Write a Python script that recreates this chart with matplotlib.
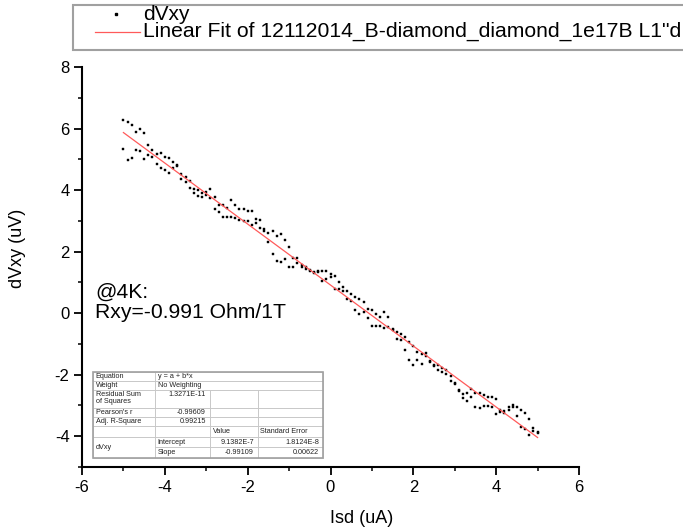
import matplotlib.pyplot as plt
from matplotlib.patches import Rectangle
from matplotlib.ticker import MultipleLocator

plt.rcParams['font.family'] = ['Liberation Sans', 'DejaVu Sans']
plt.rcParams['axes.unicode_minus'] = False

# sweep positions (uA) and the two measured branches (uV)
isd = [-5.0, -4.9, -4.8, -4.7, -4.6, -4.5, -4.4, -4.3, -4.2, -4.1,
       -4.0, -3.9, -3.8, -3.7, -3.6, -3.5, -3.4, -3.3, -3.2, -3.1,
       -3.0, -2.9, -2.8, -2.7, -2.6, -2.5, -2.4, -2.3, -2.2, -2.1,
       -2.0, -1.9, -1.8, -1.7, -1.6, -1.5, -1.4, -1.3, -1.2, -1.1,
       -1.0, -0.9, -0.8, -0.7, -0.6, -0.5, -0.4, -0.3, -0.2, -0.1,
       0.0, 0.1, 0.2, 0.3, 0.4, 0.5, 0.6, 0.7, 0.8, 0.9,
       1.0, 1.1, 1.2, 1.3, 1.4, 1.5, 1.6, 1.7, 1.8, 1.9,
       2.0, 2.1, 2.2, 2.3, 2.4, 2.5, 2.6, 2.7, 2.8, 2.9,
       3.0, 3.1, 3.2, 3.3, 3.4, 3.5, 3.6, 3.7, 3.8, 3.9,
       4.0, 4.1, 4.2, 4.3, 4.4, 4.5, 4.6, 4.7, 4.8, 4.9, 5.0]
dvxy_a = [6.27, 6.20, 6.13, 5.90, 5.97, 5.84, 5.47, 5.31, 5.16, 5.20,
          5.09, 5.05, 4.91, 4.83, 4.52, 4.41, 4.28, 4.05, 4.00, 3.89,
          3.95, 4.03, 3.77, 3.53, 3.50, 3.41, 3.69, 3.50, 3.37, 3.39,
          3.32, 3.31, 3.06, 3.02, 2.75, 2.62, 2.67, 2.52, 2.58, 2.37,
          2.14, 1.78, 1.78, 1.58, 1.44, 1.40, 1.33, 1.35, 1.37, 1.37,
          1.28, 1.20, 1.01, 0.86, 0.72, 0.61, 0.53, 0.46, 0.35, 0.13,
          0.10, -0.04, -0.12, 0.03, -0.12, -0.55, -0.62, -0.68, -0.77, -0.93,
          -1.08, -1.26, -1.34, -1.31, -1.55, -1.68, -1.70, -1.77, -1.85, -2.05,
          -2.26, -2.50, -2.63, -2.61, -2.45, -2.59, -2.61, -2.66, -2.71, -2.71,
          -2.79, -3.15, -3.19, -3.05, -3.00, -3.05, -3.15, -3.24, -3.43, -3.73, -3.87]
dvxy_b = [5.34, 4.97, 5.05, 5.31, 5.27, 5.00, 5.13, 5.08, 4.84, 4.73,
          4.65, 4.56, 4.73, 4.77, 4.35, 4.25, 4.07, 3.91, 3.82, 3.76,
          3.83, 3.73, 3.40, 3.29, 3.13, 3.13, 3.12, 3.08, 3.02, 3.01,
          3.01, 2.86, 2.93, 2.76, 2.68, 2.30, 1.93, 1.71, 1.65, 1.75,
          1.51, 1.51, 1.62, 1.51, 1.51, 1.37, 1.30, 1.38, 1.03, 1.10,
          1.18, 0.77, 0.79, 0.72, 0.45, 0.38, 0.10, -0.04, 0.03, -0.15,
          -0.42, -0.42, -0.42, -0.48, -0.45, -0.52, -0.85, -0.88, -1.20, -1.52,
          -1.67, -1.53, -1.65, -1.39, -1.60, -1.72, -1.85, -1.90, -1.98, -2.19,
          -2.30, -2.54, -2.75, -2.85, -2.73, -3.05, -3.08, -3.02, -3.02, -3.05,
          -3.28, -3.22, -3.25, -3.15, -3.05, -3.35, -3.69, -3.78, -3.97, -3.83, -3.90]

# linear fit result (y = a + b*x, in uV vs uA)
fit_a = 0.91382
fit_b = -0.99109
fit_range = [-5.0, 5.0]

# legend text as far as it is visible in the original
legend_labels = ['dVxy', 'Linear Fit of 12112014_B-diamond_diamond_1e17B L1"d']
note_lines = ['@4K:', 'Rxy=-0.991 Ohm/1T']

# fit report table: rows of (text, first col, last col, align)
table_rows = [
    [('Equation', 0, 0, 'left'), ('y = a + b*x', 1, 3, 'left')],
    [('Weight', 0, 0, 'left'), ('No Weighting', 1, 3, 'left')],
    [('Residual Sum\nof Squares', 0, 0, 'left'), ('1.3271E-11', 1, 1, 'right'),
     ('', 2, 2, 'left'), ('', 3, 3, 'left')],
    [("Pearson's r", 0, 0, 'left'), ('-0.99609', 1, 1, 'right'),
     ('', 2, 2, 'left'), ('', 3, 3, 'left')],
    [('Adj. R-Square', 0, 0, 'left'), ('0.99215', 1, 1, 'right'),
     ('', 2, 2, 'left'), ('', 3, 3, 'left')],
    [('', 0, 0, 'left'), ('', 1, 1, 'left'), ('Value', 2, 2, 'left'),
     ('Standard Error', 3, 3, 'left')],
    [('Intercept', 1, 1, 'left'), ('9.1382E-7', 2, 2, 'right'), ('1.8124E-8', 3, 3, 'right')],
    [('Slope', 1, 1, 'left'), ('-0.99109', 2, 2, 'right'), ('0.00622', 3, 3, 'right')],
]

W, H = 683, 531
fig = plt.figure(figsize=(W / 100, H / 100), dpi=100)
ax = fig.add_axes([82 / W, 1 - 467 / H, (579 - 82) / W, (467 - 67) / H])

ax.plot(isd + isd, dvxy_a + dvxy_b, ls='none', marker='s', ms=1.9,
        mfc='black', mec='black', mew=0.3)
fit_y = [fit_a + fit_b * x for x in fit_range]
ax.plot(fit_range, fit_y, color='#ff5a5a', lw=0.9)

ax.set_xlim(-6, 6)
ax.set_ylim(-5, 8)
ax.xaxis.set_major_locator(MultipleLocator(2))
ax.xaxis.set_minor_locator(MultipleLocator(1))
ax.yaxis.set_major_locator(MultipleLocator(2))
ax.yaxis.set_minor_locator(MultipleLocator(1))
for s in ['top', 'right']:
    ax.spines[s].set_visible(False)
for s in ['left', 'bottom']:
    ax.spines[s].set_linewidth(1.5)
ax.tick_params(which='major', direction='out', length=6, width=1.3, labelsize=12, pad=3)
ax.tick_params(which='minor', direction='out', length=3, width=1.1)
ax.set_xlabel('Isd (uA)', fontsize=13)
ax.set_ylabel('dVxy (uV)', fontsize=13)
ax.xaxis.set_label_coords(0.563, -0.108)
ax.yaxis.set_label_coords(-0.112, 0.547)

ax.text(0.026, 0.46, '\n'.join(note_lines), transform=ax.transAxes,
        fontsize=15.2, va='top', ha='left', linespacing=1.05)

# overlay in pixel units for the legend box and the fit report table
ov = fig.add_axes([0, 0, 1, 1], zorder=5)
ov.set_xlim(0, W)
ov.set_ylim(H, 0)
ov.axis('off')
ov.patch.set_alpha(0)

ov.add_patch(Rectangle((73, 5), 700, 45, fc='white', ec='#a0a0a0', lw=1.5, clip_on=False))
ov.plot([116], [14], ls='none', marker='s', ms=1.9, color='black')
ov.plot([95, 140], [31.5, 31.5], color='#ff5a5a', lw=0.9)
ov.text(143, 14, legend_labels[0], fontsize=15, va='center', ha='left')
ov.text(143, 31.5, legend_labels[1], fontsize=15.2, va='center', ha='left')

col_x = [93, 155, 210, 258, 323]
row_y = [372, 381, 390, 408, 417, 426, 437, 447, 458]

ov.add_patch(Rectangle((col_x[0], row_y[0]), col_x[-1] - col_x[0], row_y[-1] - row_y[0],
                       fc='white', ec='none'))
for r, row in enumerate(table_rows):
    y0, y1 = row_y[r], row_y[r + 1]
    for text, c0, c1, align in row:
        x0, x1 = col_x[c0], col_x[c1 + 1]
        ov.add_patch(Rectangle((x0, y0), x1 - x0, y1 - y0, fc='none', ec='#c8c8c8', lw=0.6))
        if not text:
            continue
        tx = x0 + 2.5 if align == 'left' else x1 - 4
        ty = y0 + 1 if r == 2 else (y0 + y1) / 2
        ov.text(tx, ty, text, ha=align, va='top' if r == 2 else 'center',
                fontsize=5.2, color='#222222', linespacing=1.0)
# merged series name cell over the two parameter rows
ov.add_patch(Rectangle((col_x[0], row_y[6]), col_x[1] - col_x[0], row_y[8] - row_y[6],
                       fc='none', ec='#c8c8c8', lw=0.6))
ov.text(col_x[0] + 2.5, (row_y[6] + row_y[8]) / 2, 'dVxy', ha='left', va='center',
        fontsize=5.2, color='#222222')
ov.add_patch(Rectangle((col_x[0], row_y[0]), col_x[-1] - col_x[0], row_y[-1] - row_y[0],
                       fc='none', ec='#a0a0a0', lw=1.2))

fig.savefig('out.png', dpi=100)
